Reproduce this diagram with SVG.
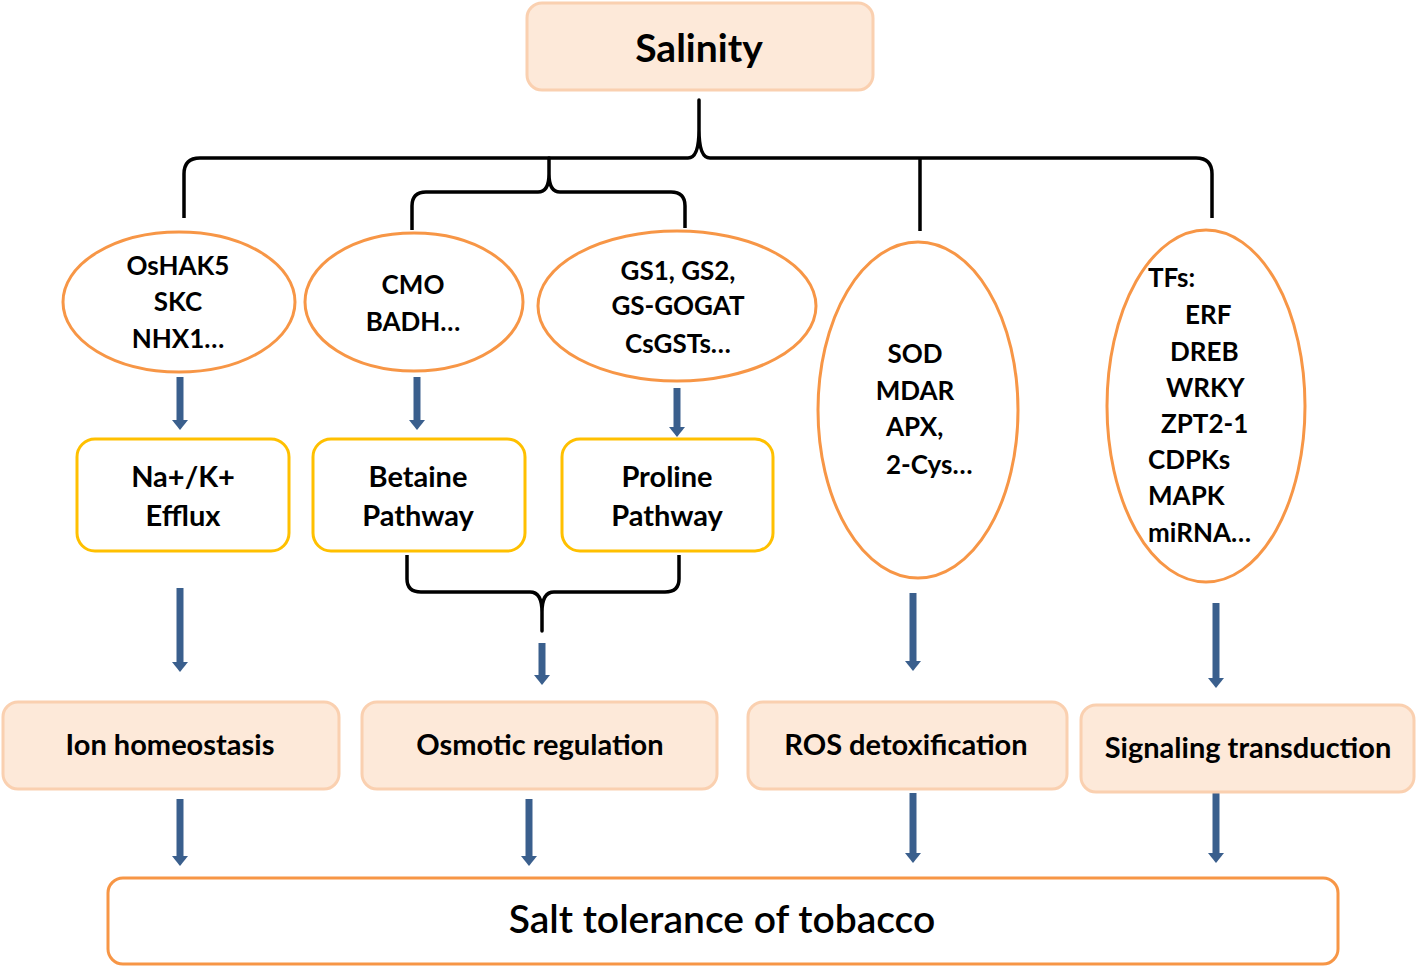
<svg xmlns="http://www.w3.org/2000/svg" width="1418" height="968" viewBox="0 0 1418 968">
<defs>
<marker id="ah" viewBox="0 -8 10 16" refX="0" refY="0" markerWidth="10" markerHeight="16" markerUnits="userSpaceOnUse" orient="auto">
<path d="M0,-8 L10,0 L0,8 z" fill="#3A5F8D"/>
</marker>
<style>
text{font-family:Lato,"Open Sans","Liberation Sans",sans-serif;font-weight:bold;fill:#000;}
.c{text-anchor:middle;}
.peach{fill:#FDE9D9;stroke:#FAD0B0;stroke-width:3;}
.ell{fill:#fff;stroke:#F79646;stroke-width:3;}
.yb{fill:#fff;stroke:#FFC000;stroke-width:3;}
.t25{font-size:26px;}
.t26{font-size:29px;}
.t29{font-size:29px;}
.arr{stroke:#3A5F8D;stroke-width:7;fill:none;marker-end:url(#ah);}
.br{stroke:#000;stroke-width:3.5;fill:none;stroke-linejoin:round;}
</style>
</defs>
<rect width="1418" height="968" fill="#fff"/>

<g id="connectors">
<path class="br" d="M184,218 L184,174 Q184,158 200,158 L688,158 Q699,158 699,130 L699,100 L699,130 Q699,158 710,158 L1196,158 Q1212,158 1212,174 L1212,218"/>
<path class="br" d="M412,230 L412,206 Q412,192 426,192 L538,192 Q549,192 549,174 L549,158 L549,174 Q549,192 560,192 L671,192 Q685,192 685,206 L685,228"/>
<path class="br" d="M920,158 L920,231"/>
<path class="br" d="M407,555 L407,579 Q407,592 421,592 L530,592 Q542,592 542,612 L542,631 L542,612 Q542,592 554,592 L665,592 Q679,592 679,579 L679,555"/>
<line class="arr" x1="180" y1="377" x2="180" y2="420"/>
<line class="arr" x1="417" y1="377" x2="417" y2="420"/>
<line class="arr" x1="677" y1="388" x2="677" y2="427"/>
<line class="arr" x1="180" y1="588" x2="180" y2="662"/>
<line class="arr" x1="542" y1="643" x2="542" y2="675"/>
<line class="arr" x1="913" y1="593" x2="913" y2="661"/>
<line class="arr" x1="1216" y1="603" x2="1216" y2="678"/>
<line class="arr" x1="180" y1="799" x2="180" y2="856"/>
<line class="arr" x1="529" y1="799" x2="529" y2="856"/>
<line class="arr" x1="913" y1="793" x2="913" y2="853"/>
<line class="arr" x1="1216" y1="793" x2="1216" y2="853"/>
</g>

<g id="salinity">
<rect class="peach" x="527" y="3" width="346" height="87" rx="15"/>
<text class="c" x="699" y="62" font-size="39">Salinity</text>
</g>

<g id="ion-genes">
<ellipse class="ell" cx="179" cy="302" rx="116" ry="70"/>
<text class="c t25" x="178" y="275">OsHAK5</text>
<text class="c t25" x="178" y="311">SKC</text>
<text class="c t25" x="178" y="348">NHX1…</text>
</g>

<g id="betaine-genes">
<ellipse class="ell" cx="414" cy="302" rx="109" ry="69"/>
<text class="c t25" x="413" y="294">CMO</text>
<text class="c t25" x="413" y="331">BADH…</text>
</g>

<g id="proline-genes">
<ellipse class="ell" cx="677" cy="306" rx="139" ry="75"/>
<text class="c t25" x="678" y="280">GS1, GS2,</text>
<text class="c t25" x="678" y="315">GS-GOGAT</text>
<text class="c t25" x="678" y="353">CsGSTs…</text>
</g>

<g id="ros-genes">
<ellipse class="ell" cx="918" cy="410" rx="100" ry="168"/>
<text class="c t25" x="915" y="363">SOD</text>
<text class="c t25" x="915" y="400">MDAR</text>
<text class="t25" x="886" y="436">APX,</text>
<text class="t25" x="886" y="474">2-Cys…</text>
</g>

<g id="signal-genes">
<ellipse class="ell" cx="1206" cy="406" rx="99" ry="176"/>
<text class="t25" x="1148" y="287">TFs:</text>
<text class="t25" x="1185" y="324">ERF</text>
<text class="t25" x="1170" y="361">DREB</text>
<text class="t25" x="1166" y="397">WRKY</text>
<text class="t25" x="1161" y="433">ZPT2-1</text>
<text class="t25" x="1148" y="469">CDPKs</text>
<text class="t25" x="1148" y="505">MAPK</text>
<text class="t25" x="1148" y="542">miRNA…</text>
</g>

<g id="efflux">
<rect class="yb" x="77" y="439" width="212" height="112" rx="18"/>
<text class="c t26" x="183" y="487">Na+/K+</text>
<text class="c t26" x="183" y="526">Efflux</text>
</g>

<g id="betaine">
<rect class="yb" x="313" y="439" width="212" height="112" rx="18"/>
<text class="c t26" x="418" y="487">Betaine</text>
<text class="c t26" x="418" y="526">Pathway</text>
</g>

<g id="proline">
<rect class="yb" x="562" y="439" width="211" height="112" rx="18"/>
<text class="c t26" x="667" y="487">Proline</text>
<text class="c t26" x="667" y="526">Pathway</text>
</g>

<g id="ion-homeostasis">
<rect class="peach" x="3" y="702" width="336" height="87" rx="15"/>
<text class="c t29" x="170" y="755">Ion homeostasis</text>
</g>

<g id="osmotic-regulation">
<rect class="peach" x="362" y="702" width="355" height="87" rx="15"/>
<text class="c t29" x="540" y="755">Osmotic regulation</text>
</g>

<g id="ros-detox">
<rect class="peach" x="748" y="702" width="319" height="87" rx="15"/>
<text class="c t29" x="906" y="755">ROS detoxification</text>
</g>

<g id="signaling">
<rect class="peach" x="1081" y="705" width="333" height="87" rx="15"/>
<text class="c t29" x="1248" y="758">Signaling transduction</text>
</g>

<g id="salt-tolerance">
<rect x="108" y="878" width="1230" height="86" rx="15" fill="#fff" stroke="#F79646" stroke-width="3"/>
<text class="c" x="722" y="933" font-size="39" style="font-weight:600">Salt tolerance of tobacco</text>
</g>
</svg>
